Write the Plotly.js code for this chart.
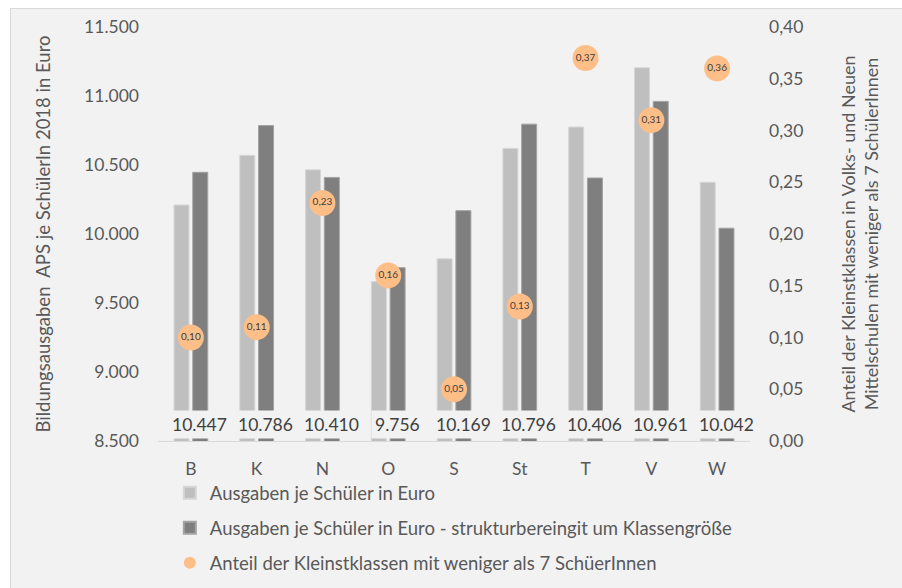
<!DOCTYPE html>
<html>
<head>
<meta charset="utf-8">
<script src="https://cdn.plot.ly/plotly-3.0.1.min.js"></script>
<style>
  html, body { margin: 0; padding: 0; background: #ffffff; }
  #frame { position: absolute; left: 10px; top: 8px; width: 891px; height: 579px;
           border-left: 1px solid #d9d9d9; border-top: 1px solid #d9d9d9; background: #f2f2f2; }
  #chart { width: 891px; height: 579px; }
</style>
</head>
<body>
<div id="frame"><div id="chart"></div></div>
<script>
// ---- data ----
var categories = ["B", "K", "N", "O", "S", "St", "T", "V", "W"];
var ausgaben = [10210, 10570, 10465, 9655, 9820, 10620, 10775, 11205, 10375];
var ausgabenBereinigt = [10447, 10786, 10410, 9756, 10169, 10796, 10406, 10961, 10042];
var anteilKleinst = [0.10, 0.11, 0.23, 0.16, 0.05, 0.13, 0.37, 0.31, 0.36];

var nameA = "Ausgaben je Schüler in Euro";
var nameB = "Ausgaben je Schüler in Euro - strukturbereingit um Klassengröße";
var nameC = "Anteil der Kleinstklassen mit weniger als 7 SchüerInnen";

function fmtThousands(v) { return String(v).replace(/\B(?=(\d{3})+(?!\d))/g, "."); }
function fmtDec(v) { return v.toFixed(2).replace(".", ","); }

var FONT = "Lato, 'Open Sans', sans-serif";
var TXT = "#595959";

var traces = [
  { type: "bar", name: nameA, x: categories, y: ausgaben, legendgroup: "a",
    marker: { color: "#bfbfbf", line: { color: "#d6d6d6", width: 1 } }, hoverinfo: "skip" },
  { type: "bar", name: nameB, x: categories, y: ausgabenBereinigt, legendgroup: "b",
    marker: { color: "#7f7f7f", line: { color: "#a3a3a3", width: 1 } }, hoverinfo: "skip" },
  { type: "scatter", mode: "markers", name: nameC, x: categories, y: anteilKleinst, yaxis: "y2",
    legendgroup: "c", marker: { color: "#fdbe88", size: 26 }, hoverinfo: "skip" },
  { type: "scatter", mode: "text", x: categories, y: anteilKleinst, yaxis: "y2", showlegend: false,
    text: anteilKleinst.map(fmtDec), textposition: "middle center",
    textfont: { family: FONT, size: 10, color: "#404040" }, hoverinfo: "skip" }
];

var annotations = categories.map(function (c, i) {
  return { x: c, y: 8500, xref: "x", yref: "y", xshift: 9, yshift: 2, yanchor: "bottom",
           text: fmtThousands(ausgabenBereinigt[i]), showarrow: false,
           font: { family: FONT, size: 17.5, color: "#404040" },
           bgcolor: "#f2f2f2", borderpad: 3 };
});

var layout = {
  width: 891, height: 579,
  margin: { l: 147, r: 152, t: 18, b: 147, autoexpand: false },
  paper_bgcolor: "#f2f2f2", plot_bgcolor: "#f2f2f2",
  separators: ",.",
  font: { family: FONT, size: 17, color: TXT },
  barmode: "group", bargap: 0.43, bargroupgap: 0.2,
  showlegend: true,
  legend: { x: 0.02, y: -0.08, xanchor: "left", yanchor: "top", orientation: "v",
            traceorder: "grouped", tracegroupgap: 8, itemsizing: "constant",
            font: { family: FONT, size: 18.5, color: TXT }, bgcolor: "rgba(0,0,0,0)" },
  xaxis: { type: "category", range: [-0.5, categories.length - 0.5], autorange: false,
           showline: true, linecolor: "#d9d9d9", linewidth: 1,
           showgrid: false, ticks: "", ticklabelstandoff: 12, automargin: false,
           tickfont: { family: FONT, size: 17.5, color: TXT } },
  yaxis: { range: [8500, 11500], dtick: 500, tick0: 8500, tickformat: ",", showgrid: false,
           zeroline: false, showline: false, ticks: "", ticklabelstandoff: 18, automargin: false,
           tickfont: { family: FONT, size: 17.5, color: TXT },
           title: { text: "Bildungsausgaben  APS je SchülerIn 2018 in Euro", standoff: 28,
                    font: { family: FONT, size: 18.5, color: TXT } } },
  yaxis2: { overlaying: "y", side: "right", range: [0, 0.4], dtick: 0.05, tick0: 0,
            tickformat: ".2f", showgrid: false, zeroline: false, showline: false, ticks: "",
            ticklabelstandoff: 18, automargin: false, tickfont: { family: FONT, size: 17.5, color: TXT },
            title: { text: "Anteil der Kleinstklassen in Volks- und Neuen<br>Mittelschulen mit weniger als 7 SchülerInnen",
                     standoff: 39, font: { family: FONT, size: 18, color: TXT } } },
  annotations: annotations
};

Plotly.newPlot("chart", traces, layout, { displayModeBar: false, staticPlot: true });
</script>
</body>
</html>
